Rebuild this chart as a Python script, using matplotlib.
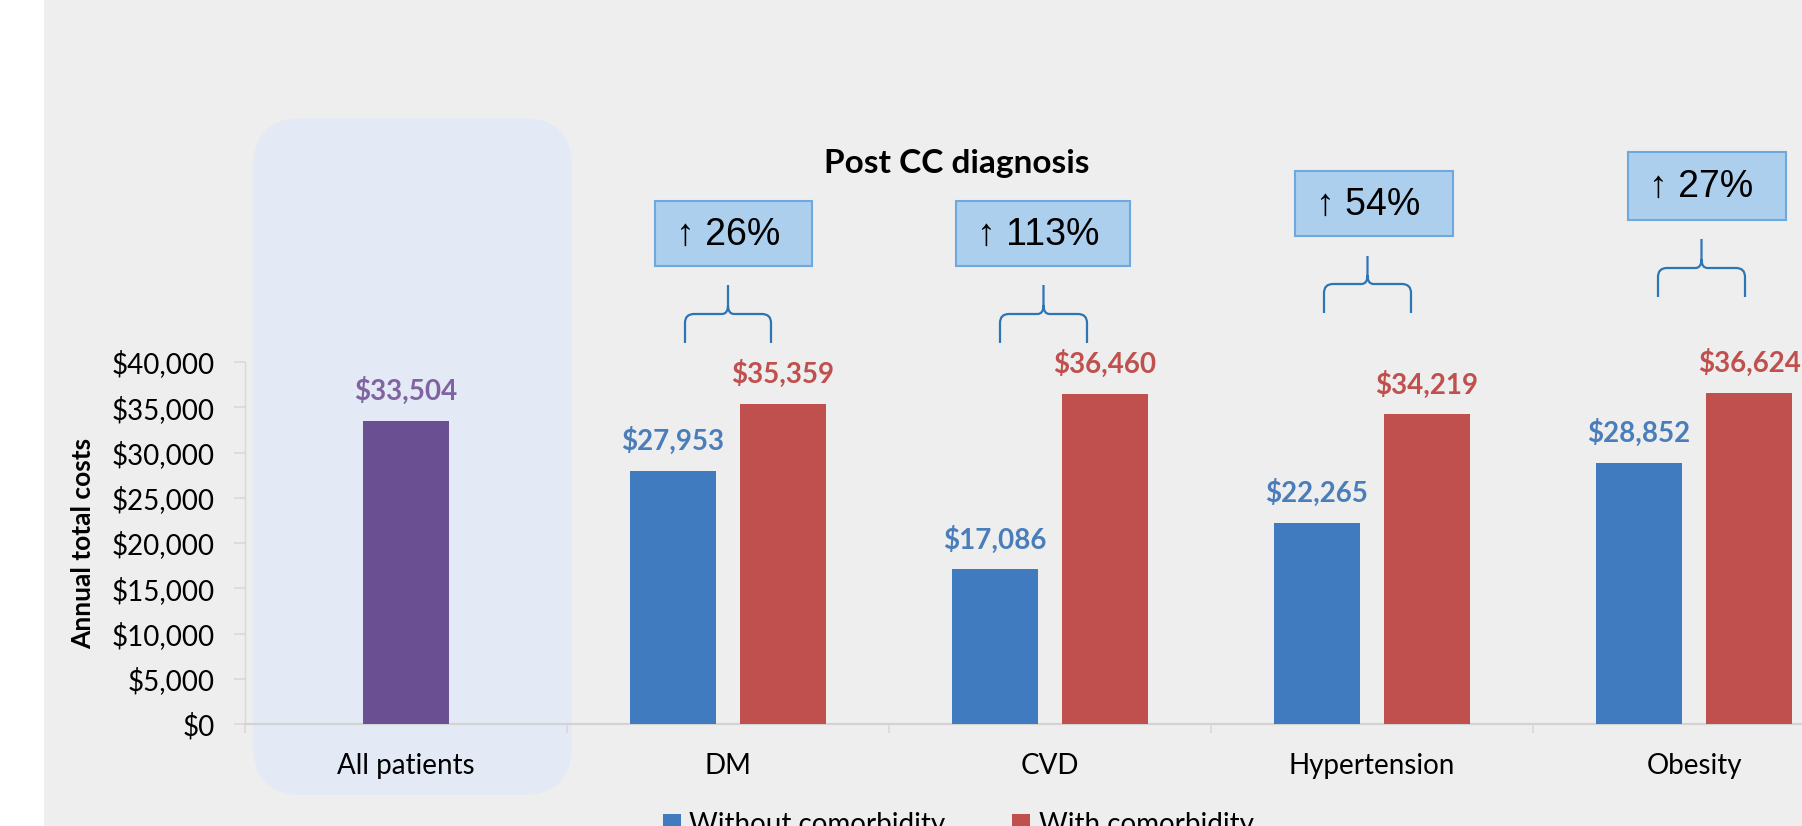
import matplotlib
matplotlib.use("Agg")
import matplotlib.pyplot as plt
import matplotlib.transforms as mtransforms
from matplotlib.patches import FancyBboxPatch, Rectangle, PathPatch
from matplotlib.path import Path
from matplotlib.ticker import FuncFormatter
import numpy as np

# ---------------- data ----------------
categories = ["All patients", "DM", "CVD", "Hypertension", "Obesity"]
all_patients_cost = 33504
without_comorbidity = [27953, 17086, 22265, 28852]
with_comorbidity = [35359, 36460, 34219, 36624]
increase_labels = ["\u2191 26%", "\u2191 113%", "\u2191 54%", "\u2191 27%"]
y_ticks = [0, 5000, 10000, 15000, 20000, 25000, 30000, 35000, 40000]
series_names = ["Without comorbidity", "With comorbidity"]

# ---------------- style ----------------
plt.rcParams["font.family"] = ["Lato", "DejaVu Sans"]
BG = "#EEEEEE"
PURPLE, PURPLE_TXT = "#6A5093", "#8064A2"
BLUE, BLUE_TXT = "#407BBF", "#4A7EBB"
RED, RED_TXT = "#C0504D", "#C0504D"
AXIS_C = "#D9D9D9"

W, H = 1802, 826
fig = plt.figure(figsize=(W / 100, H / 100), dpi=100)
fig.patch.set_facecolor(BG)
# pixel transform (origin top-left)
px = mtransforms.Affine2D().scale(1 / 100, -1 / 100).translate(0, H / 100) + fig.dpi_scale_trans

# white strip on the left
fig.patches.append(Rectangle((0, 0), 44, H, transform=px, facecolor="white",
                             edgecolor="none", zorder=-3))
# highlight behind "All patients"
fig.patches.append(FancyBboxPatch((253, 118), 572 - 253, 795 - 118,
                                  boxstyle="round,pad=0,rounding_size=50",
                                  transform=px, facecolor="#E3EAF5",
                                  edgecolor="none", zorder=-2))

# ---------------- axes ----------------
ax = fig.add_axes([245 / W, (H - 724) / H, 1610 / W, 362 / H])
ax.set_facecolor("none")

bw, off = 0.267, 0.171
b0 = ax.bar(0, all_patients_cost, width=bw, color=PURPLE, zorder=3)
x = np.arange(1, len(categories))
b1 = ax.bar(x - off, without_comorbidity, width=bw, color=BLUE, zorder=3)
b2 = ax.bar(x + off, with_comorbidity, width=bw, color=RED, zorder=3)

lab_kw = dict(textcoords="offset points", xytext=(0, 15), ha="center",
              va="baseline", fontsize=20, fontweight="bold", annotation_clip=False)
ax.annotate(f"${all_patients_cost:,}", (0, all_patients_cost), color=PURPLE_TXT, **lab_kw)
for xi, v in zip(x - off, without_comorbidity):
    ax.annotate(f"${v:,}", (xi, v), color=BLUE_TXT, **lab_kw)
for xi, v in zip(x + off, with_comorbidity):
    ax.annotate(f"${v:,}", (xi, v), color=RED_TXT, **lab_kw)

ax.set_xlim(-0.5, len(categories) - 0.5)
ax.set_ylim(0, 40000)
ax.set_xticks(range(len(categories)))
ax.set_xticklabels(categories, fontsize=20)
ax.set_xticks(np.arange(-0.5, len(categories), 1), minor=True)
ax.tick_params(axis="x", which="major", length=0, pad=21)
ax.tick_params(axis="x", which="minor", length=6.5, color=AXIS_C, width=1.2)
ax.set_yticks(y_ticks)
ax.yaxis.set_major_formatter(FuncFormatter(lambda v, p: f"${v:,.0f}"))
ax.tick_params(axis="y", length=8, color=AXIS_C, width=1.2, pad=14, labelsize=20)
for s in ("top", "right"):
    ax.spines[s].set_visible(False)
ax.spines["left"].set_color(AXIS_C)
ax.spines["left"].set_linewidth(1.0)
ax.spines["bottom"].set_color("#D3D3D3")
ax.spines["bottom"].set_linewidth(1.6)
ax.set_ylabel("Annual total costs", fontsize=19, fontweight="bold",
              va="center", ha="center", rotation_mode="default")
ax.yaxis.set_label_coords(-0.1006, 0.5)

# ---------------- annotations ----------------
fig.text(957, 163, "Post CC diagnosis", transform=px, ha="center", va="center",
         fontsize=24, fontweight="bold")

boxes = [(655, 201, 812, 266), (956, 201, 1130, 266),
         (1295, 171, 1453, 236), (1628, 152, 1786, 220)]
for (x0, y0, x1, y1), t in zip(boxes, increase_labels):
    fig.patches.append(Rectangle((x0, y0), x1 - x0, y1 - y0, transform=px,
                                 facecolor="#ADCFEE", edgecolor="#6FA8DC",
                                 linewidth=1.5, zorder=5))
    fig.text(x0 + 21, (y0 + y1) / 2 + 1, t, transform=px, ha="left", va="center",
             fontsize=27, family=["Liberation Sans", "DejaVu Sans"], zorder=6)

braces = [(685, 771, 285, 314, 343), (1000, 1087, 285, 314, 343),
          (1324, 1411, 256, 284, 313), (1658, 1745, 239, 268, 297)]
for L, R, T, Hh, B in braces:
    C = (L + R) / 2
    r = 9
    verts = [(L, B), (L, Hh + r), (L, Hh), (L + r, Hh), (C - 6, Hh), (C, Hh), (C, Hh - r), (C, T),
             (R, B), (R, Hh + r), (R, Hh), (R - r, Hh), (C + 6, Hh), (C, Hh), (C, Hh - r)]
    codes = [Path.MOVETO, Path.LINETO, Path.CURVE3, Path.CURVE3, Path.LINETO, Path.CURVE3,
             Path.CURVE3, Path.LINETO,
             Path.MOVETO, Path.LINETO, Path.CURVE3, Path.CURVE3, Path.LINETO, Path.CURVE3,
             Path.CURVE3]
    fig.patches.append(PathPatch(Path(verts, codes), transform=px, facecolor="none",
                                 edgecolor="#2E75B6", linewidth=1.6, zorder=5))

fig.legend(handles=[b1, b2], labels=series_names, loc="upper left",
           bbox_to_anchor=(663, 812), bbox_transform=px, ncol=2, frameon=False,
           fontsize=20, handlelength=0.65, handleheight=0.65, handletextpad=0.3,
           columnspacing=2.4, borderpad=0, borderaxespad=0)

fig.savefig("out.png", dpi=100, facecolor=BG)
